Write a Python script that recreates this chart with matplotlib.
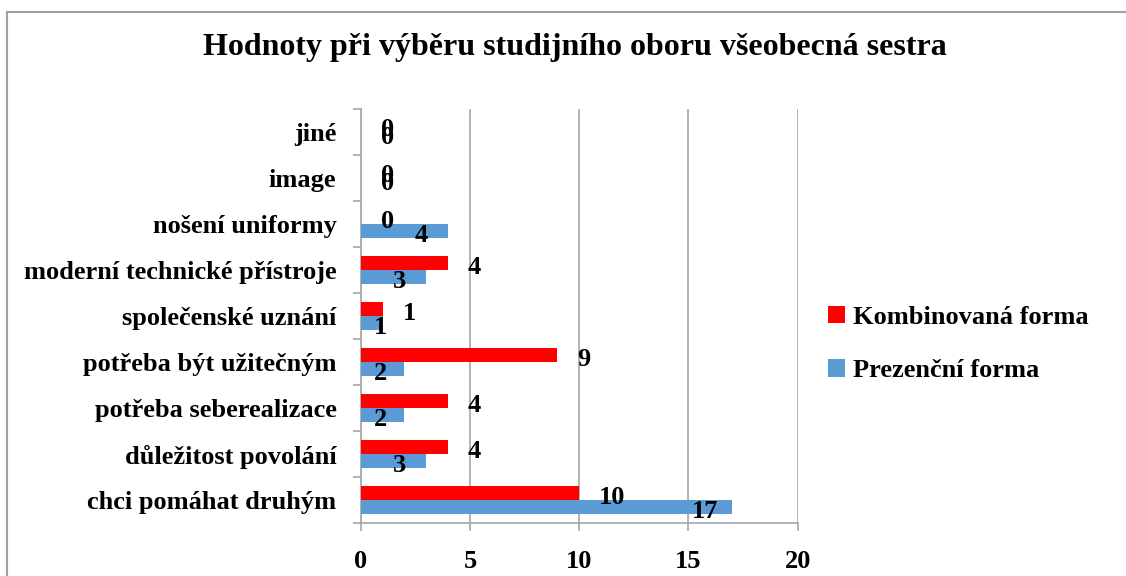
import matplotlib
matplotlib.use("Agg")
import matplotlib.pyplot as plt
from matplotlib.patches import Rectangle
import numpy as np

# Data (bottom to top as drawn)
categories = ["chci pomáhat druhým", "důležitost povolání", "potřeba seberealizace",
              "potřeba být užitečným", "společenské uznání", "moderní technické přístroje",
              "nošení uniformy", "image", "jiné"]
kombinovana = [10, 4, 4, 9, 1, 4, 0, 0, 0]
prezencni = [17, 3, 2, 2, 1, 3, 4, 0, 0]
series_names = ["Kombinovaná forma", "Prezenční forma"]
x_ticks = [0, 5, 10, 15, 20]

RED = "#FF0000"
BLUE = "#5B9BD5"
GRID = "#A6A6A6"

plt.rcParams['font.family'] = ['Liberation Serif', 'DejaVu Serif']
plt.rcParams['font.weight'] = 'bold'

W, H = 1126, 576
fig = plt.figure(figsize=(W / 100, H / 100), dpi=100)

# outer chart frame (right and bottom run off the picture)
fig.patches.append(Rectangle((7.5 / W, -0.1), 1.2, 1 - 12 / H + 0.1, transform=fig.transFigure,
                             fill=False, edgecolor="#A0A0A0", linewidth=1.5))

ax = fig.add_axes([360.7 / W, (H - 523) / H, (797.7 - 360.7) / W, (523 - 109) / H])

y = np.arange(len(categories))
h = 0.3
ax.barh(y + h / 2, kombinovana, height=h, color=RED, label=series_names[0], zorder=3)
ax.barh(y - h / 2, prezencni, height=h, color=BLUE, label=series_names[1], zorder=3)

ax.set_xlim(0, 20)
ax.set_ylim(-0.5, len(categories) - 0.5)
ax.set_xticks(x_ticks)
ax.set_yticks(np.arange(len(categories) + 1) - 0.5, minor=False)
ax.set_yticklabels([])
ax.set_yticks(y, minor=True)
ax.set_yticklabels(categories, minor=True, fontsize=19, fontweight='bold')
ax.tick_params(axis='y', which='minor', length=0, pad=17.5)
ax.tick_params(axis='y', which='major', length=5.8, color=GRID, width=1.2)
ax.tick_params(axis='x', length=5.5, color=GRID, width=1.2, labelsize=19, pad=14)
for lbl in ax.get_xticklabels():
    lbl.set_fontweight('bold')

ax.grid(axis='x', color=GRID, linewidth=1.2, zorder=0)
for side in ["top", "right"]:
    ax.spines[side].set_visible(False)
for side in ["left", "bottom"]:
    ax.spines[side].set_color(GRID)
    ax.spines[side].set_linewidth(1.2)

# value labels, placed like the Excel original
px = 20.0 / (797.7 - 360.7)  # data units per pixel
for yi, v in zip(y, kombinovana):
    ax.text(v + 20 * px, yi + h / 2 - 0.1, str(v), ha='left', va='center',
            fontsize=19, fontweight='bold', zorder=4)
for yi, v, k in zip(y, prezencni, kombinovana):
    if v == 0:
        ax.text(k + 20 * px, yi - h / 2 + 0.02, str(v), ha='left', va='center',
                fontsize=19, fontweight='bold', zorder=4)
    else:
        xc = max(v - 27 * px, 20 * px)
        ax.text(xc, yi - h / 2 - 0.1, str(v), ha='center', va='center',
                fontsize=19, fontweight='bold', zorder=4)

fig.text(575 / W, 1 - 47 / H, "Hodnoty při výběru studijního oboru všeobecná sestra",
         ha='center', va='center', fontsize=23, fontweight='bold')

leg = fig.legend(loc='center left', bbox_to_anchor=(804 / W, 1 - 344 / H), frameon=False,
                 prop={'size': 19, 'weight': 'bold'}, handlelength=0.65, handleheight=0.65,
                 handletextpad=0.3, labelspacing=1.15)

fig.savefig("out.png", dpi=100)
